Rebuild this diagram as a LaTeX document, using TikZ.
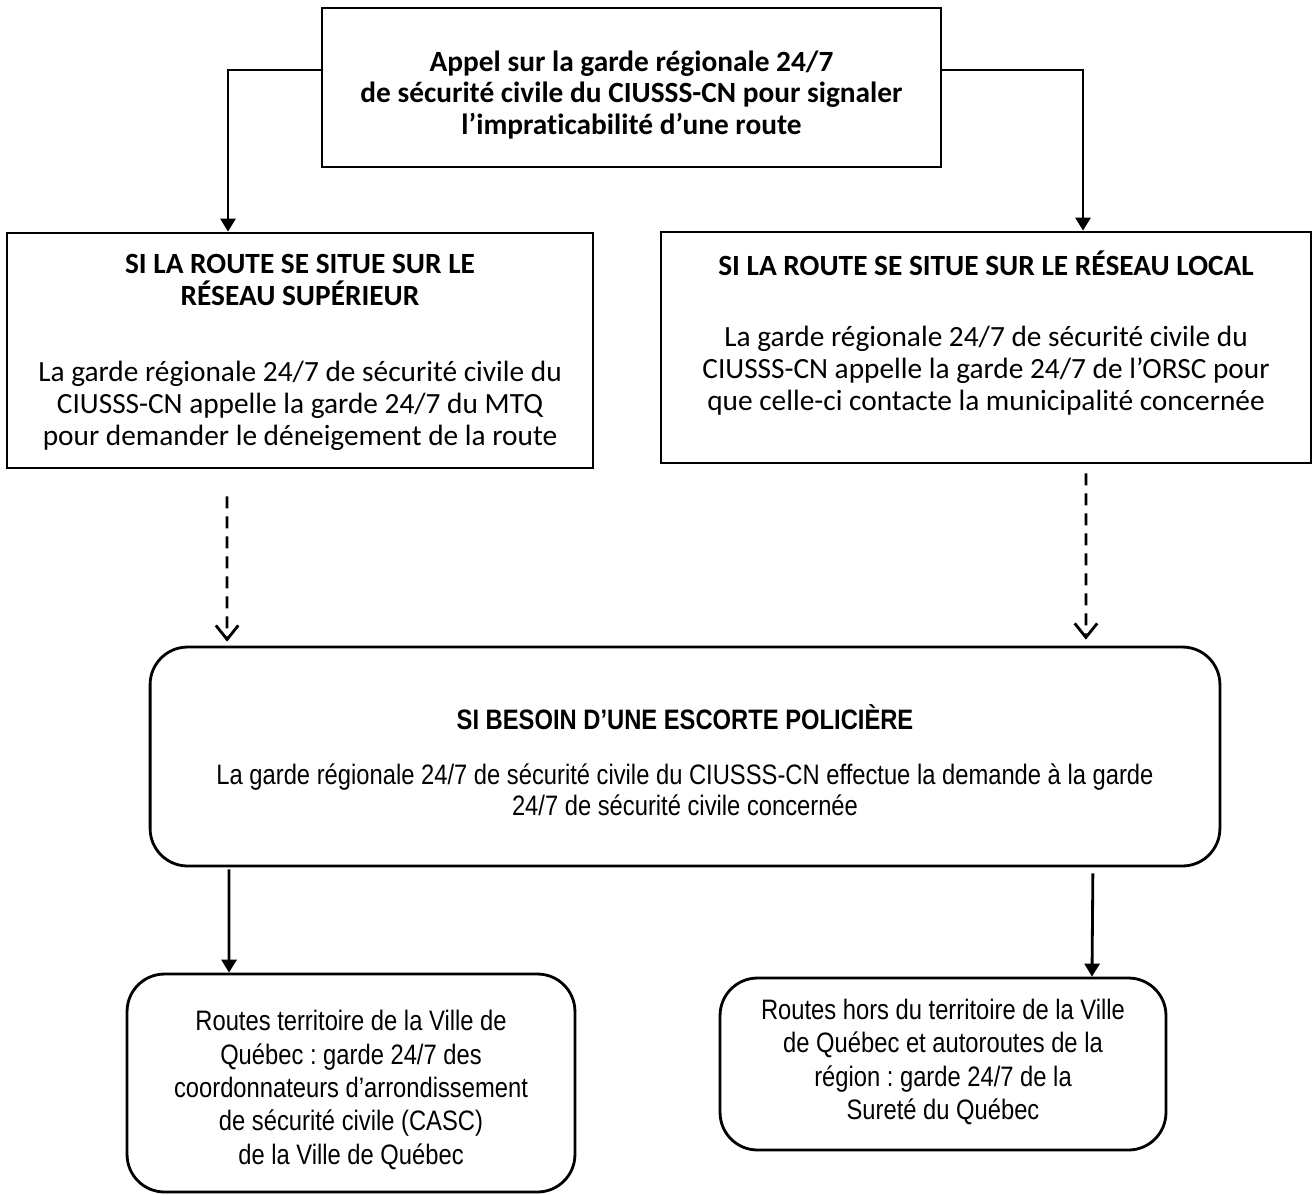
\documentclass[tikz,border=0pt]{standalone}
\usepackage{fontspec}
\setmainfont{Carlito}[RawFeature={-liga;-clig;-dlig;-rlig}]
\newfontfamily\narrowfont[FakeStretch=0.845,Ligatures=NoCommon]{Liberation Sans}
\usetikzlibrary{arrows.meta}
\frenchspacing
\begin{document}
\begin{tikzpicture}[x=0.02cm,y=-0.02cm,
  box/.style={draw, line width=1.6pt, inner sep=0pt},
  rbox/.style={box, rounded corners=0.75cm},
  cal/.style={font=\fontsize{16.7}{18.2}\selectfont, align=center},
  calb/.style={font=\fontsize{16.7}{18.2}\selectfont\bfseries, align=center},
  nar/.style={font=\narrowfont\fontsize{16}{17.6}\selectfont, align=center},
  narb/.style={font=\narrowfont\bfseries\fontsize{16}{17.6}\selectfont, align=center},
  narlow/.style={font=\narrowfont\fontsize{16}{19}\selectfont, align=center},
  arr/.style={line width=1.6pt, -{Triangle[length=0.26cm,width=0.3cm]}},
  darr/.style={line width=1.6pt, dash pattern=on 0.24cm off 0.16cm, -{Straight Barb[length=0.28cm,width=0.45cm,line width=1.6pt]}}
]
\useasboundingbox (0,0) rectangle (1314,1194);

% boxes
\node[box, minimum width=12.38cm, minimum height=3.18cm] (top) at (631.5,87.5) {};
\node[box, minimum width=11.72cm, minimum height=4.7cm] (left) at (300,350.5) {};
\node[box, minimum width=13.0cm, minimum height=4.62cm] (right) at (986,347.5) {};
\node[rbox, minimum width=21.4cm, minimum height=4.38cm] (mid) at (685,756.5) {};
\node[rbox, minimum width=8.96cm, minimum height=4.36cm] (bl) at (351,1083) {};
\node[rbox, minimum width=8.92cm, minimum height=3.44cm] (br) at (943,1064) {};

% texts
\node[calb] (toptext) at (631.5,95)
  {Appel sur la garde régionale 24/7\\de sécurité civile du CIUSSS-CN pour signaler\\l’impraticabilité d’une route};
\node[calb] (lefttitle) at (300,280) {SI LA ROUTE SE SITUE SUR LE\\RÉSEAU SUPÉRIEUR};
\node[cal] (leftbody) at (300,406) {La garde régionale 24/7 de sécurité civile du\\CIUSSS-CN appelle la garde 24/7 du MTQ\\pour demander le déneigement de la route};
\node[calb] (righttitle) at (986,263) {SI LA ROUTE SE SITUE SUR LE RÉSEAU LOCAL};
\node[cal] (rightbody) at (986,371) {La garde régionale 24/7 de sécurité civile du\\CIUSSS-CN appelle la garde 24/7 de l’ORSC pour\\que celle-ci contacte la municipalité concernée};
\node[narb] (midtitle) at (685,717) {SI BESOIN D’UNE ESCORTE POLICIÈRE};
\node[nar] (midbody) at (685,790) {La garde régionale 24/7 de sécurité civile du CIUSSS-CN effectue la demande à la garde\\24/7 de sécurité civile concernée};
\node[narlow] (bltext) at (351,1090) {Routes territoire de la Ville de\\Québec : garde 24/7 des\\coordonnateurs d’arrondissement\\de sécurité civile (CASC)\\de la Ville de Québec};
\node[narlow] (brtext) at (943,1062) {Routes hors du territoire de la Ville\\de Québec et autoroutes de la\\région : garde 24/7 de la\\Sureté du Québec};

% connectors
\draw[arr] ([yshift=0.35cm]top.west) -| ([xshift=-1.44cm]left.north);
\draw[arr] ([yshift=0.35cm]top.east) -| ([xshift=1.94cm]right.north);
\draw[darr, shorten <=0.54cm, shorten >=0.08cm] ([xshift=-1.46cm]left.south) -- ([xshift=-9.16cm]mid.north);
\draw[darr, shorten <=0.18cm, shorten >=0.12cm] ([xshift=2.0cm]right.south) -- ([xshift=8.02cm]mid.north);
\draw[arr, shorten <=0.04cm] ([xshift=-9.12cm]mid.south) -- ([xshift=-2.44cm]bl.north);
\draw[arr, shorten <=0.12cm] ([xshift=8.16cm]mid.south) -- ([xshift=2.98cm]br.north);
\end{tikzpicture}
\end{document}
